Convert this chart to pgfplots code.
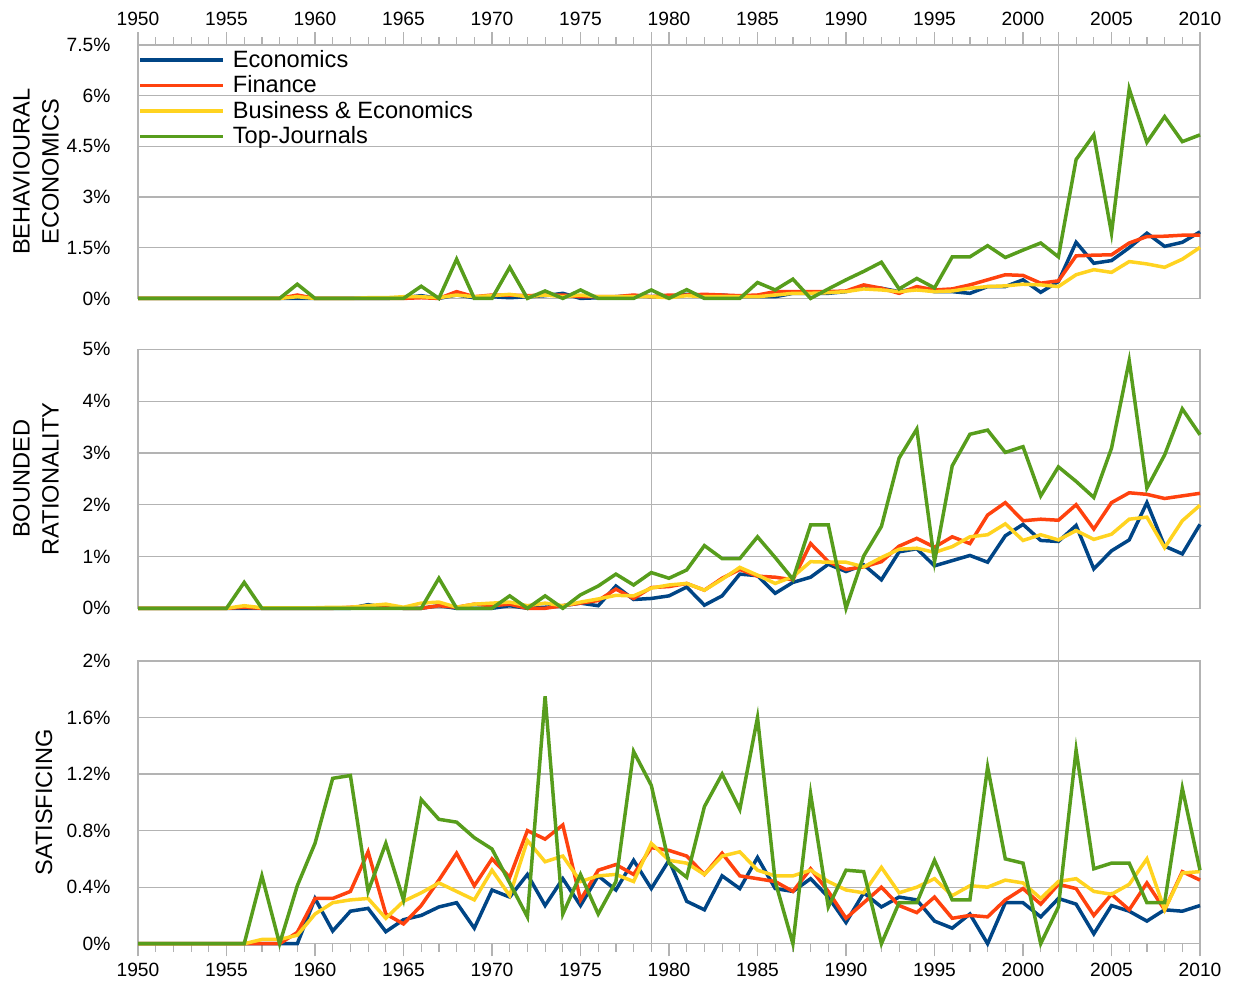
\documentclass[border=0pt]{standalone}
\usepackage{fontspec}
\setmainfont{Liberation Sans}
\usepackage{pgfplots}
\usepackage{pgfplotstable}
\pgfplotsset{compat=1.18}
\definecolor{ceco}{HTML}{004586}
\definecolor{cfin}{HTML}{FF420E}
\definecolor{cbus}{HTML}{FFD320}
\definecolor{ctop}{HTML}{579D1C}
\definecolor{gridgray}{HTML}{B3B3B3}

\pgfplotstableread{
year eco fin bus top
1950 0 0 0 0
1951 0 0 0 0
1952 0 0 0 0
1953 0 0 0 0
1954 0 0 0 0
1955 0 0 0 0
1956 0 0 0 0
1957 0 0 0 0
1958 0 0 0 0
1959 0.0 0.1 0.05 0.42
1960 0 0 0 0
1961 0 0 0 0
1962 0 0 0 0
1963 0 0 0.02 0
1964 0 0 0.02 0
1965 0.02 0 0.05 0
1966 0.08 0.02 0.05 0.36
1967 0 0 0.02 0
1968 0.1 0.2 0.1 1.16
1969 0.02 0.05 0.05 0
1970 0.05 0.1 0.08 0
1971 0.02 0.1 0.12 0.92
1972 0.05 0.08 0.05 0
1973 0.08 0.1 0.1 0.22
1974 0.15 0.1 0.05 0
1975 0 0.05 0.1 0.25
1976 0.02 0.05 0.05 0
1977 0.05 0.05 0.05 0
1978 0.08 0.1 0.05 0
1979 0.05 0.05 0.05 0.25
1980 0.05 0.1 0.02 0
1981 0.12 0.1 0.08 0.26
1982 0.1 0.12 0.05 0
1983 0.1 0.1 0.05 0
1984 0.05 0.08 0.05 0
1985 0.05 0.1 0.05 0.47
1986 0.05 0.2 0.1 0.25
1987 0.15 0.2 0.15 0.57
1988 0.15 0.2 0.15 0
1989 0.15 0.2 0.17 0.28
1990 0.2 0.22 0.2 0.55
1991 0.35 0.4 0.28 0.8
1992 0.3 0.3 0.25 1.07
1993 0.2 0.15 0.2 0.28
1994 0.3 0.35 0.25 0.59
1995 0.2 0.25 0.2 0.31
1996 0.2 0.28 0.22 1.23
1997 0.15 0.4 0.3 1.23
1998 0.35 0.55 0.35 1.56
1999 0.35 0.7 0.37 1.21
2000 0.55 0.68 0.42 1.43
2001 0.18 0.45 0.4 1.64
2002 0.5 0.52 0.35 1.23
2003 1.66 1.26 0.7 4.11
2004 1.04 1.28 0.85 4.84
2005 1.12 1.29 0.77 1.93
2006 1.5 1.64 1.09 6.2
2007 1.93 1.83 1.02 4.62
2008 1.54 1.84 0.92 5.38
2009 1.66 1.87 1.16 4.64
2010 1.97 1.87 1.51 4.84
}\beh

\pgfplotstableread{
year eco fin bus top
1950 0 0 0 0
1951 0 0 0 0
1952 0 0 0 0
1953 0 0 0 0
1954 0 0 0 0
1955 0 0 0 0
1956 0 0.02 0.05 0.5
1957 0 0 0.01 0
1958 0 0 0.01 0
1959 0 0 0.01 0
1960 0 0 0.01 0
1961 0 0 0.02 0
1962 0 0.02 0.02 0
1963 0.07 0.04 0.05 0
1964 0.02 0.02 0.08 0
1965 0 0 0.02 0
1966 0 0 0.1 0
1967 0.05 0.05 0.12 0.58
1968 0 0.02 0.02 0
1969 0 0.08 0.08 0
1970 0 0.05 0.1 0
1971 0.05 0.08 0.12 0.24
1972 0 0 0.05 0
1973 0.02 0 0.1 0.24
1974 0.05 0.05 0.05 0
1975 0.1 0.1 0.12 0.26
1976 0.05 0.15 0.18 0.43
1977 0.43 0.37 0.25 0.66
1978 0.17 0.19 0.24 0.45
1979 0.19 0.4 0.39 0.69
1980 0.24 0.42 0.45 0.58
1981 0.41 0.48 0.48 0.74
1982 0.06 0.35 0.35 1.21
1983 0.24 0.58 0.56 0.96
1984 0.66 0.75 0.79 0.96
1985 0.63 0.62 0.64 1.38
1986 0.29 0.6 0.48 0.98
1987 0.5 0.55 0.61 0.56
1988 0.6 1.25 0.9 1.61
1989 0.85 0.9 0.89 1.61
1990 0.71 0.75 0.89 0
1991 0.84 0.8 0.8 1.01
1992 0.55 0.9 0.98 1.58
1993 1.09 1.2 1.14 2.9
1994 1.15 1.35 1.16 3.46
1995 0.82 1.18 1.08 0.9
1996 0.92 1.38 1.19 2.75
1997 1.02 1.25 1.38 3.36
1998 0.89 1.8 1.42 3.44
1999 1.4 2.04 1.63 3.01
2000 1.62 1.69 1.31 3.12
2001 1.31 1.72 1.42 2.17
2002 1.29 1.7 1.32 2.73
2003 1.6 2.0 1.5 2.45
2004 0.76 1.53 1.33 2.14
2005 1.11 2.04 1.43 3.09
2006 1.32 2.23 1.72 4.78
2007 2.04 2.2 1.76 2.32
2008 1.2 2.12 1.17 2.96
2009 1.05 2.17 1.69 3.85
2010 1.62 2.22 1.99 3.35
}\bnd

\pgfplotstableread{
year eco fin bus top
1950 0 0 0 0
1951 0 0 0 0
1952 0 0 0 0
1953 0 0 0 0
1954 0 0 0 0
1955 0 0 0 0
1956 0 0 0 0
1957 0 0 0.03 0.48
1958 0 0 0.03 0
1959 0 0.08 0.06 0.41
1960 0.32 0.32 0.21 0.71
1961 0.09 0.32 0.29 1.17
1962 0.23 0.37 0.31 1.19
1963 0.25 0.65 0.32 0.37
1964 0.085 0.21 0.18 0.71
1965 0.17 0.14 0.3 0.31
1966 0.2 0.27 0.36 1.02
1967 0.26 0.45 0.43 0.88
1968 0.29 0.64 0.37 0.86
1969 0.11 0.41 0.31 0.75
1970 0.38 0.6 0.52 0.67
1971 0.33 0.47 0.34 0.43
1972 0.49 0.8 0.73 0.19
1973 0.27 0.74 0.58 1.75
1974 0.46 0.84 0.62 0.21
1975 0.27 0.31 0.44 0.49
1976 0.48 0.52 0.48 0.21
1977 0.38 0.56 0.49 0.44
1978 0.59 0.49 0.44 1.36
1979 0.39 0.68 0.71 1.12
1980 0.59 0.66 0.59 0.57
1981 0.3 0.62 0.57 0.47
1982 0.24 0.49 0.49 0.97
1983 0.48 0.64 0.62 1.2
1984 0.39 0.48 0.65 0.95
1985 0.61 0.46 0.52 1.6
1986 0.39 0.44 0.48 0.44
1987 0.37 0.37 0.48 0
1988 0.46 0.53 0.52 1.06
1989 0.33 0.37 0.44 0.26
1990 0.15 0.18 0.38 0.52
1991 0.36 0.29 0.36 0.51
1992 0.26 0.4 0.54 0
1993 0.33 0.27 0.36 0.29
1994 0.31 0.22 0.4 0.29
1995 0.16 0.33 0.46 0.59
1996 0.11 0.18 0.34 0.31
1997 0.21 0.2 0.41 0.31
1998 0 0.19 0.4 1.25
1999 0.29 0.31 0.45 0.6
2000 0.29 0.39 0.43 0.57
2001 0.19 0.28 0.32 0
2002 0.32 0.42 0.44 0.26
2003 0.28 0.39 0.46 1.37
2004 0.07 0.2 0.37 0.53
2005 0.27 0.35 0.35 0.57
2006 0.23 0.24 0.42 0.57
2007 0.16 0.43 0.6 0.29
2008 0.24 0.24 0.24 0.29
2009 0.23 0.51 0.5 1.1
2010 0.27 0.45 0.51 0.52
}\sat

\pgfplotsset{
  panel/.style={
    scale only axis, width=531pt, xmin=1950, xmax=2010, ymin=0,
    clip=false,
    axis line style={gridgray, line width=0.6pt},
    ymajorgrids, grid style={gridgray, line width=0.6pt},
    ytick style={draw=none},
    xtick style={gridgray, line width=0.6pt},
    tick align=outside,
    major tick length=6.3pt, minor tick length=4pt,
    tick label style={font=\fontsize{9.6}{10.5}\selectfont},
    /pgf/number format/assume math mode=true,
    xticklabel style={/pgf/number format/1000 sep=},
    yticklabel style={xshift=-4pt},
  },
  ylab/.style={every axis y label/.style={at={([xshift=#1]axis description cs:0,0.5)}, rotate=90, anchor=center, align=center, font=\fontsize{11.8}{14.5}\selectfont}},
  ser/.style={line width=1.75pt, color=#1},
}

\begin{document}
\begin{tikzpicture}
\path[use as bounding box] (0pt,0pt) rectangle (618pt,-492.5pt);
\draw[gridgray, line width=0.6pt] (325.65pt,-16pt) -- (325.65pt,-471.5pt);
\draw[gridgray, line width=0.6pt] (529.2pt,-16pt) -- (529.2pt,-471.5pt);

\begin{axis}[panel, at={(69pt,-22.5pt)}, anchor=north west, height=126.7pt,
  ymax=7.5, ytick={0,1.5,3,4.5,6,7.5},
  yticklabels={0\%,1.5\%,3\%,4.5\%,6\%,7.5\%},
  xtick={1950,1955,...,2010}, minor x tick num=4,
  xtick pos=upper, xticklabel pos=upper,
  ylab=-51pt, ylabel={BEHAVIOURAL\\ECONOMICS},
  legend style={draw=none, fill=none, at={(0.0,0.997)}, anchor=north west,
    font=\fontsize{11.8}{12}\selectfont, inner sep=0pt, row sep=-1.35pt,
    column sep=2pt},
  legend cell align=left,
  legend image code/.code={\draw[#1] (0pt,0pt) -- (41.5pt,0pt);},
]
\addplot[ser=ceco] table[x=year, y=eco] {\beh};
\addplot[ser=cfin] table[x=year, y=fin] {\beh};
\addplot[ser=cbus] table[x=year, y=bus] {\beh};
\addplot[ser=ctop] table[x=year, y=top] {\beh};
\legend{Economics, Finance, Business \& Economics, Top-Journals}
\end{axis}

\begin{axis}[panel, at={(69pt,-174.65pt)}, anchor=north west, height=129.5pt,
  ymax=5, ytick={0,1,2,3,4,5},
  yticklabels={0\%,1\%,2\%,3\%,4\%,5\%},
  xtick=\empty,
  ylab=-51pt, ylabel={BOUNDED\\RATIONALITY},
]
\addplot[ser=ceco] table[x=year, y=eco] {\bnd};
\addplot[ser=cfin] table[x=year, y=fin] {\bnd};
\addplot[ser=cbus] table[x=year, y=bus] {\bnd};
\addplot[ser=ctop] table[x=year, y=top] {\bnd};
\end{axis}

\begin{axis}[panel, at={(69pt,-330.5pt)}, anchor=north west, height=141.35pt,
  ymax=2, ytick={0,0.4,0.8,1.2,1.6,2},
  yticklabels={0\%,0.4\%,0.8\%,1.2\%,1.6\%,2\%},
  xtick={1950,1955,...,2010}, minor x tick num=4,
  xtick pos=lower, xticklabel pos=lower,
  ylab=-47pt, ylabel={SATISFICING},
]
\addplot[ser=ceco] table[x=year, y=eco] {\sat};
\addplot[ser=cfin] table[x=year, y=fin] {\sat};
\addplot[ser=cbus] table[x=year, y=bus] {\sat};
\addplot[ser=ctop] table[x=year, y=top] {\sat};
\end{axis}
\end{tikzpicture}
\end{document}
